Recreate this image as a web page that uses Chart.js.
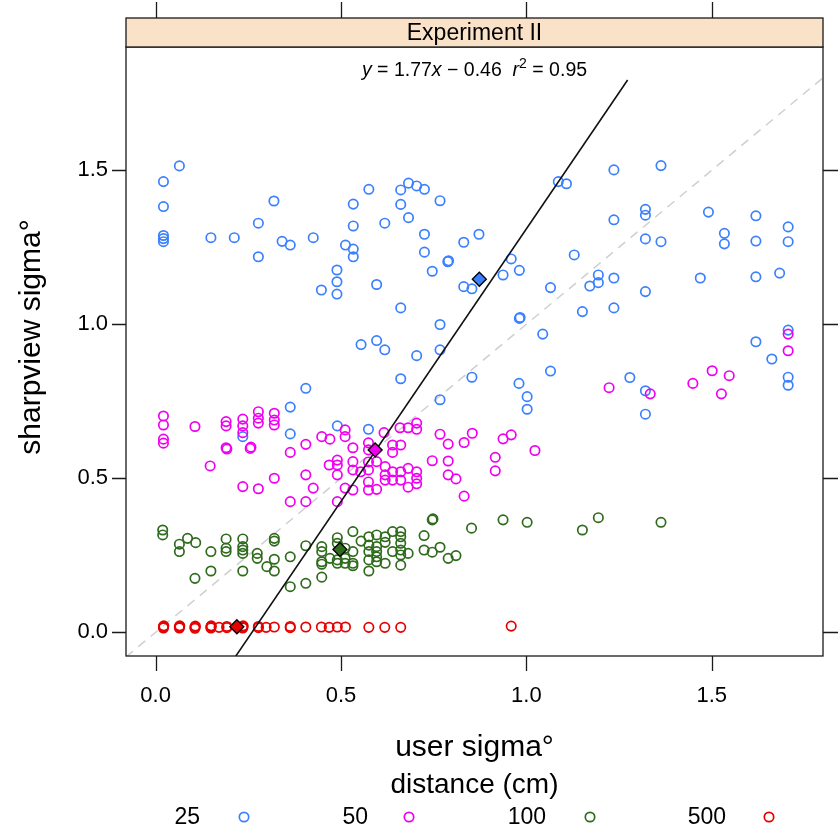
<!DOCTYPE html>
<html><head><meta charset="utf-8">
<script src="https://cdn.jsdelivr.net/npm/chart.js@4.4.1/dist/chart.umd.min.js"></script>
<style>html,body{margin:0;padding:0;background:#fff;}canvas{display:block}</style>
</head><body>
<canvas id="c" width="838" height="832"></canvas>
<script>
// ---- data ----
const groupLabels = ['25', '50', '100', '500'];
const groupColors = ['#3a80ff', '#f000f0', '#2f6b1c', '#e60000'];
const xTicks = [0.0, 0.5, 1.0, 1.5];
const yTicks = [0.0, 0.5, 1.0, 1.5];
const xTickLabels = ['0.0', '0.5', '1.0', '1.5'];
const yTickLabels = ['0.0', '0.5', '1.0', '1.5'];

const dist25 = [
 [0.064,1.514],[0.021,1.463],[0.021,1.382],[0.021,1.288],[0.021,1.278],[0.021,1.268],[0.149,1.281],[0.212,1.281],
 [0.277,1.328],[0.277,1.219],[0.319,1.400],[0.341,1.269],[0.363,1.257],[0.425,1.281],[0.405,0.792],[0.447,1.111],
 [0.489,1.176],[0.489,1.138],[0.489,1.098],[0.512,1.257],[0.533,1.244],[0.533,1.219],[0.533,1.319],[0.533,1.390],
 [0.554,0.934],[0.575,1.438],[0.596,1.129],[0.596,0.947],[0.618,1.328],[0.618,0.917],[0.661,1.436],[0.661,1.389],
 [0.661,1.053],[0.661,0.823],[0.682,1.458],[0.682,1.346],[0.704,1.449],[0.704,0.898],[0.725,1.438],[0.725,1.292],
 [0.725,1.234],[0.746,1.172],[0.767,1.401],[0.767,0.999],[0.767,0.917],[0.767,0.755],[0.788,1.203],[0.790,1.206],
 [0.831,1.266],[0.831,1.122],[0.853,1.115],[0.853,0.828],[0.872,1.292],[1.086,1.463],[1.108,1.456],[0.959,1.212],
 [0.981,1.175],[0.937,1.160],[1.065,1.119],[1.129,1.225],[0.981,1.019],[0.983,1.022],[1.044,0.968],[1.151,1.041],
 [1.194,1.160],[1.194,1.135],[1.171,1.124],[1.236,1.501],[1.236,1.339],[1.236,1.150],[1.236,1.053],[1.321,1.373],
 [1.321,1.354],[1.321,1.277],[1.321,1.106],[1.363,1.515],[1.363,1.268],[1.491,1.364],[1.534,1.295],[1.534,1.261],
 [1.469,1.150],[1.619,1.352],[1.619,1.270],[1.619,1.154],[1.619,0.943],[1.683,1.166],[1.706,1.316],[1.706,1.268],
 [1.662,0.887],[1.706,0.981],[1.706,0.828],[1.706,0.802],[0.980,0.808],[1.065,0.848],[1.002,0.765],[1.002,0.724],
 [1.279,0.827],[1.321,0.784],[1.321,0.708],[0.363,0.731],[0.490,0.670],[0.363,0.644],[0.574,0.659],[0.235,0.635]
];
const dist50 = [
 [0.021,0.702],[0.021,0.673],[0.021,0.627],[0.021,0.614],[0.106,0.668],[0.190,0.684],[0.190,0.670],[0.190,0.599],
 [0.192,0.595],[0.147,0.540],[0.235,0.692],[0.235,0.670],[0.235,0.648],[0.255,0.597],[0.257,0.601],[0.235,0.473],
 [0.277,0.466],[0.277,0.716],[0.277,0.695],[0.277,0.679],[0.320,0.711],[0.320,0.689],[0.320,0.673],[0.405,0.610],
 [0.363,0.584],[0.448,0.635],[0.470,0.627],[0.511,0.657],[0.511,0.635],[0.532,0.599],[0.468,0.543],[0.490,0.559],
 [0.490,0.543],[0.532,0.554],[0.532,0.527],[0.320,0.500],[0.405,0.511],[0.425,0.468],[0.490,0.511],[0.511,0.468],
 [0.532,0.462],[0.363,0.424],[0.405,0.424],[0.490,0.424],[0.574,0.615],[0.574,0.592],[0.574,0.553],[0.574,0.527],
 [0.574,0.488],[0.574,0.462],[0.553,0.521],[0.616,0.648],[0.659,0.664],[0.681,0.664],[0.704,0.679],[0.704,0.659],
 [0.639,0.608],[0.639,0.584],[0.661,0.608],[0.596,0.554],[0.619,0.538],[0.619,0.511],[0.619,0.494],[0.639,0.521],
 [0.639,0.494],[0.661,0.521],[0.661,0.494],[0.681,0.532],[0.681,0.471],[0.704,0.521],[0.704,0.500],[0.704,0.482],
 [0.596,0.464],[0.767,0.643],[0.789,0.611],[0.832,0.616],[0.854,0.646],[0.746,0.557],[0.789,0.556],[0.789,0.511],
 [0.810,0.498],[0.832,0.442],[0.937,0.628],[0.959,0.641],[0.916,0.568],[0.916,0.524],[1.023,0.590],[1.706,0.968],
 [1.706,0.914],[1.501,0.849],[1.547,0.833],[1.449,0.808],[1.526,0.774],[1.223,0.794],[1.334,0.774]
];
const dist100 = [
 [0.019,0.332],[0.019,0.316],[0.064,0.286],[0.064,0.262],[0.086,0.305],[0.108,0.291],[0.149,0.262],[0.190,0.303],
 [0.190,0.273],[0.190,0.262],[0.235,0.303],[0.235,0.278],[0.235,0.267],[0.235,0.256],[0.274,0.256],[0.274,0.240],
 [0.106,0.175],[0.149,0.199],[0.235,0.199],[0.300,0.213],[0.320,0.305],[0.320,0.296],[0.320,0.237],[0.320,0.199],
 [0.363,0.245],[0.405,0.281],[0.363,0.148],[0.405,0.159],[0.448,0.278],[0.448,0.262],[0.448,0.229],[0.448,0.221],
 [0.448,0.179],[0.470,0.240],[0.490,0.307],[0.490,0.289],[0.490,0.235],[0.490,0.224],[0.511,0.273],[0.511,0.240],
 [0.511,0.224],[0.532,0.327],[0.532,0.262],[0.532,0.224],[0.532,0.216],[0.554,0.296],[0.575,0.310],[0.575,0.283],
 [0.575,0.262],[0.575,0.235],[0.575,0.199],[0.596,0.316],[0.596,0.278],[0.596,0.262],[0.596,0.245],[0.596,0.229],
 [0.619,0.310],[0.619,0.292],[0.619,0.224],[0.639,0.327],[0.639,0.262],[0.661,0.327],[0.661,0.310],[0.661,0.289],
 [0.661,0.267],[0.661,0.251],[0.661,0.218],[0.681,0.256],[0.724,0.314],[0.724,0.267],[0.746,0.260],[0.767,0.276],
 [0.789,0.240],[0.810,0.249],[0.746,0.365],[0.748,0.368],[0.852,0.338],[0.937,0.365],[1.002,0.357],[1.151,0.332],
 [1.194,0.372],[1.363,0.357]
];
const dist500 = [
 [0.021,0.014],[0.021,0.018],[0.022,0.021],[0.064,0.014],[0.064,0.018],[0.065,0.021],[0.106,0.013],[0.106,0.017],
 [0.107,0.020],[0.149,0.014],[0.149,0.018],[0.150,0.021],[0.171,0.016],[0.192,0.015],[0.192,0.019],[0.235,0.014],
 [0.235,0.018],[0.236,0.021],[0.277,0.015],[0.277,0.019],[0.298,0.016],[0.320,0.017],[0.363,0.015],[0.363,0.019],
 [0.405,0.017],[0.447,0.017],[0.468,0.016],[0.490,0.017],[0.512,0.017],[0.575,0.016],[0.618,0.016],[0.661,0.016],
 [0.959,0.020]
];
const groupMeans = [[0.873,1.146],[0.592,0.592],[0.497,0.269],[0.219,0.018]];
// fitted line y = 1.77x - 0.46, endpoints as drawn
const fitLine = [[0.20,-0.106],[1.273,1.793]];
// y = x reference line
const refLine = [[-0.08,-0.08],[1.80,1.80]];

const equationParts = [
  {t:'y', it:true}, {t:' = 1.77'}, {t:'x', it:true}, {t:' \u2212 0.46  '}, {t:'r', it:true}, {t:'2', sup:true}, {t:' = 0.95'}
];
const stripText = 'Experiment II';
const xTitle = 'user sigma\u00B0';
const yTitle = 'sharpview sigma\u00B0';
const legendTitle = 'distance (cm)';

const FONT = '"Liberation Sans", Arial, Helvetica, sans-serif';
const toPts = a => a.map(p => ({x:p[0], y:p[1]}));
const PR = 4.7, PW = 1.7;

const seriesData = [dist25, dist50, dist100, dist500];
const datasets = [];
datasets.push({type:'line', data: toPts(refLine), borderColor:'#cfcfcf', borderWidth:1.5, borderDash:[9,7],
  pointRadius:0, fill:false, order:20});
seriesData.forEach((d, i) => {
  datasets.push({type:'scatter', label: groupLabels[i], data: toPts(d), pointStyle:'circle',
    pointRadius:PR, pointBorderWidth:PW, borderColor: groupColors[i], backgroundColor:'rgba(0,0,0,0)',
    pointHoverRadius:PR, order: 15 - i});
});
datasets.push({type:'line', data: toPts(fitLine), borderColor:'#111', borderWidth:1.6, pointRadius:0, fill:false, order:2});
datasets.push({type:'scatter', data: toPts(groupMeans), pointStyle:'rectRot', pointRadius:7, pointHoverRadius:7,
  pointBorderWidth:1.3, borderColor:'#000', backgroundColor: groupColors.slice(), order:1});

const decor = {
  id:'decor',
  afterDraw(chart) {
    const ctx = chart.ctx, a = chart.chartArea, xs = chart.scales.x, ys = chart.scales.y;
    ctx.save();
    ctx.strokeStyle = '#1a1a1a'; ctx.lineWidth = 1.3;
    ctx.strokeRect(a.left, a.top, a.right - a.left, a.bottom - a.top);
    const sTop = 18;
    ctx.fillStyle = '#f9e2c8';
    ctx.fillRect(a.left, sTop, a.right - a.left, a.top - sTop);
    ctx.strokeRect(a.left, sTop, a.right - a.left, a.top - sTop);
    ctx.fillStyle = '#000'; ctx.font = '23px ' + FONT; ctx.textAlign = 'center'; ctx.textBaseline = 'middle';
    ctx.fillText(stripText, (a.left + a.right) / 2, (sTop + a.top) / 2 + 1);
    ctx.beginPath();
    xTicks.forEach(v => {
      const px = Math.round(xs.getPixelForValue(v)) + 0.5;
      ctx.moveTo(px, a.bottom); ctx.lineTo(px, a.bottom + 15);
      ctx.moveTo(px, sTop); ctx.lineTo(px, sTop - 16);
    });
    yTicks.forEach(v => {
      const py = Math.round(ys.getPixelForValue(v)) + 0.5;
      ctx.moveTo(a.left, py); ctx.lineTo(a.left - 14, py);
      ctx.moveTo(a.right, py); ctx.lineTo(a.right + 15, py);
    });
    ctx.stroke();
    ctx.font = '22px ' + FONT; ctx.fillStyle = '#000';
    ctx.textAlign = 'center'; ctx.textBaseline = 'middle';
    xTicks.forEach((v, i) => ctx.fillText(xTickLabels[i], xs.getPixelForValue(v), 696));
    ctx.textAlign = 'right';
    yTicks.forEach((v, i) => ctx.fillText(yTickLabels[i], 108, ys.getPixelForValue(v)));
    ctx.font = '30px ' + FONT; ctx.textAlign = 'center';
    ctx.fillText(xTitle, (a.left + a.right) / 2, 748);
    ctx.save();
    ctx.translate(32, (sTop + a.bottom) / 2);
    ctx.rotate(-Math.PI / 2);
    ctx.fillText(yTitle, 0, 0);
    ctx.restore();
    const eqSize = 19.5;
    let total = 0;
    const fontFor = p => (p.it ? 'italic ' : '') + (p.sup ? Math.round(eqSize * 0.7) : eqSize) + 'px ' + FONT;
    const widths = equationParts.map(p => { ctx.font = fontFor(p); const w = ctx.measureText(p.t).width; total += w; return w; });
    let ex = (a.left + a.right) / 2 - total / 2;
    const eBase = 76;
    ctx.textAlign = 'left'; ctx.textBaseline = 'alphabetic';
    equationParts.forEach((p, i) => {
      ctx.font = fontFor(p);
      ctx.fillText(p.t, ex, p.sup ? eBase - 8 : eBase);
      ex += widths[i];
    });
    ctx.font = '28px ' + FONT; ctx.textAlign = 'center'; ctx.textBaseline = 'middle';
    ctx.fillText(legendTitle, (a.left + a.right) / 2, 785);
    const textRight = [200, 368, 546, 726];
    const symX = [244, 409, 590, 769];
    ctx.font = '23px ' + FONT; ctx.textAlign = 'right';
    groupLabels.forEach((lab, i) => {
      ctx.fillStyle = '#000';
      ctx.fillText(lab, textRight[i], 818);
      ctx.beginPath(); ctx.arc(symX[i], 817, PR, 0, Math.PI * 2);
      ctx.strokeStyle = groupColors[i]; ctx.lineWidth = PW; ctx.stroke();
    });
    ctx.restore();
  }
};

new Chart(document.getElementById('c'), {
  type: 'scatter',
  data: { datasets },
  options: {
    responsive: false, animation: false, devicePixelRatio: 1,
    layout: { padding: { left: 126, top: 47, right: 15, bottom: 176 } },
    plugins: { legend: { display: false }, tooltip: { enabled: false } },
    events: [],
    scales: {
      x: { type: 'linear', min: -0.08, max: 1.80, display: false },
      y: { type: 'linear', min: -0.077, max: 1.90, display: false }
    }
  },
  plugins: [decor]
});
</script>
</body></html>
